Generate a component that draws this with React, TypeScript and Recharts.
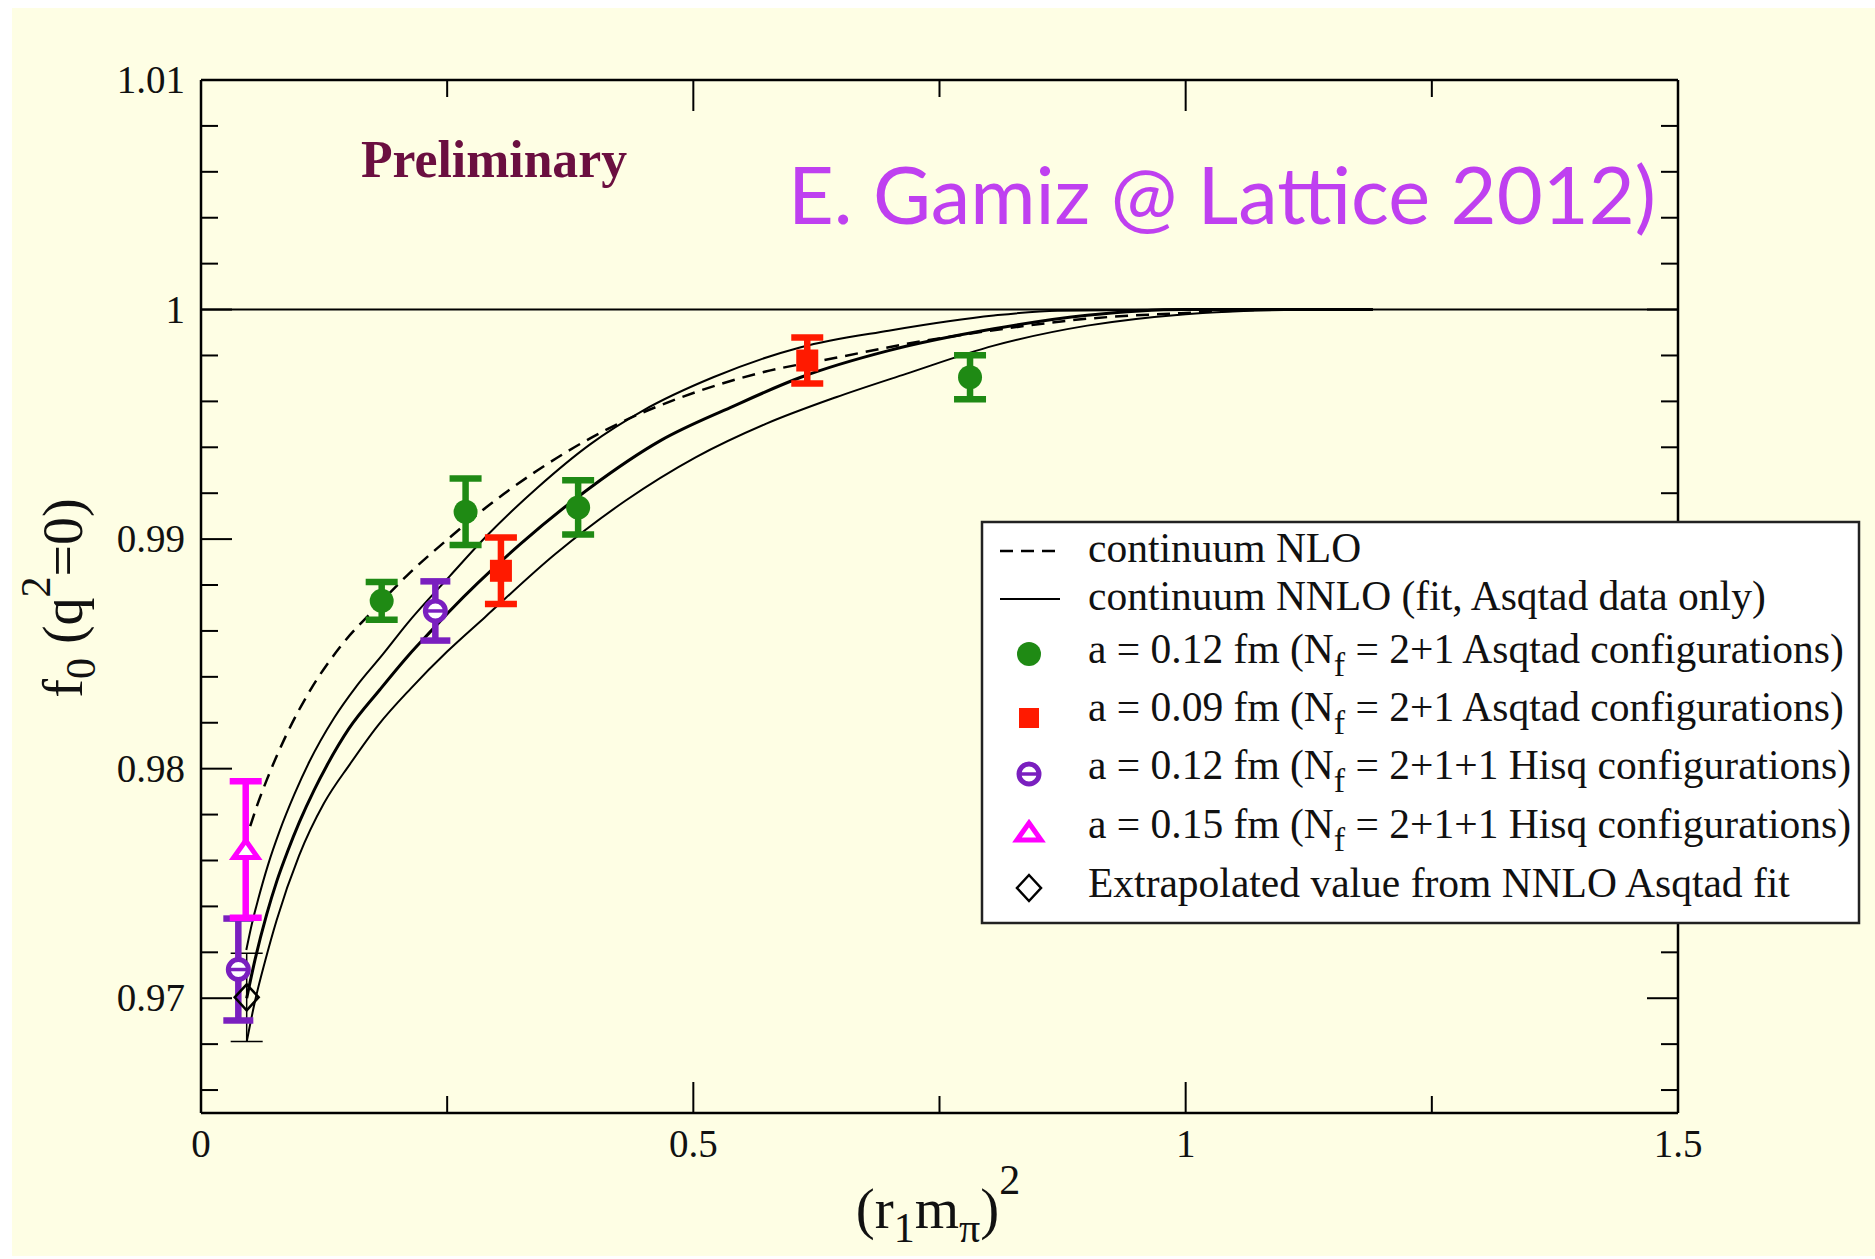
import React from 'react';
import { ComposedChart, Line, Scatter, XAxis, YAxis, ErrorBar, ReferenceLine } from 'recharts';

// axis ticks
const X_TICKS = [0, 0.25, 0.5, 0.75, 1, 1.25, 1.5];
const X_LABELS = ['0', '', '0.5', '', '1', '', '1.5'];
const Y_TICKS = [0.966, 0.968, 0.97, 0.972, 0.974, 0.976, 0.978, 0.98, 0.982, 0.984, 0.986, 0.988, 0.99,
  0.992, 0.994, 0.996, 0.998, 1, 1.002, 1.004, 1.006, 1.008, 1.01];
const Y_MAJOR = [0.97, 0.98, 0.99, 1, 1.01];
const Y_MAJOR_LABELS = ['0.97', '0.98', '0.99', '1', '1.01'];

// continuum NLO (dashed)
const nloX = [0.05, 0.057, 0.0667, 0.087, 0.1107, 0.1412, 0.175, 0.2089, 0.2562, 0.2813, 0.3419, 0.4132, 0.5023, 0.5735, 0.6447, 0.716, 0.805, 0.9, 1.0, 1.1, 1.19];
const nloY = [0.9775, 0.9784, 0.9795, 0.9815, 0.9834, 0.9853, 0.9869, 0.9884, 0.9902, 0.9911, 0.993, 0.9948, 0.9964, 0.9973, 0.9979, 0.9985, 0.9991, 0.9996, 0.99985, 1.0, 1.0];

// continuum NNLO fit: upper edge, central, lower edge
const upX = [0.046, 0.052, 0.058, 0.068, 0.08, 0.095, 0.11, 0.135, 0.158, 0.185, 0.209, 0.2529, 0.292, 0.3419, 0.3955, 0.4489, 0.5202, 0.6092, 0.6983, 0.8052, 0.87, 1.0, 1.19];
const upY = [0.9721, 0.9733, 0.9743, 0.9758, 0.9773, 0.9789, 0.9803, 0.9822, 0.9836, 0.985, 0.9863, 0.9884, 0.99022, 0.99225, 0.99414, 0.9956, 0.99705, 0.99836, 0.99908, 0.99974, 0.99995, 1.0, 1.0];
const midX = [0.0464, 0.055, 0.0667, 0.077, 0.088, 0.1, 0.115, 0.1276, 0.15, 0.1818, 0.21, 0.2359, 0.2529, 0.3242, 0.3955, 0.4666, 0.538, 0.6092, 0.6983, 0.8052, 0.9, 1.0, 1.19];
const midY = [0.97, 0.9717, 0.97365, 0.9751, 0.9764, 0.97768, 0.97908, 0.98012, 0.98173, 0.98345, 0.9849, 0.9861, 0.98688, 0.98978, 0.99225, 0.99429, 0.99574, 0.99705, 0.99821, 0.99916, 0.99975, 1.0, 1.0];
const lowX = [0.0464, 0.055, 0.065, 0.0768, 0.0995, 0.125, 0.1513, 0.18, 0.2132, 0.25, 0.2884, 0.3598, 0.431, 0.5023, 0.5736, 0.6449, 0.716, 0.8052, 0.9, 1.0, 1.1, 1.19];
const lowY = [0.9681, 0.9699, 0.9716, 0.9734, 0.9762, 0.9785, 0.9802, 0.9819, 0.9835, 0.9851, 0.9866, 0.98935, 0.99167, 0.99356, 0.99502, 0.99618, 0.9972, 0.99843, 0.9993, 0.9998, 0.99998, 1.0];

// lattice data
const asq12X = [0.1835, 0.2687, 0.383, 0.781];
const asq12Y = [0.98731, 0.99119, 0.99138, 0.99705];
const asq12E = [0.00082, 0.00145, 0.00118, 0.00096];
const asq09X = [0.3046, 0.6157];
const asq09Y = [0.98862, 0.99778];
const asq09E = [0.00145, 0.001];
const hisq12X = [0.0379, 0.238];
const hisq12Y = [0.97125, 0.98687];
const hisq12E = [0.00222, 0.00129];
const hisq15X = [0.0454];
const hisq15Y = [0.97648];
const hisq15E = [0.00297];
const extrapX = [0.0464];
const extrapY = [0.97004];
const extrapE = [0.00192];

const LEGEND_TEXT: [string, string, string][] = [
  ['continuum NLO', '', ''],
  ['continuum NNLO (fit, Asqtad data only)', '', ''],
  ['a = 0.12 fm (N', 'f', ' = 2+1 Asqtad configurations)'],
  ['a = 0.09 fm (N', 'f', ' = 2+1 Asqtad configurations)'],
  ['a = 0.12 fm (N', 'f', ' = 2+1+1 Hisq configurations)'],
  ['a = 0.15 fm (N', 'f', ' = 2+1+1 Hisq configurations)'],
  ['Extrapolated value from NNLO Asqtad fit', '', ''],
];

const BG = '#fefee4';
const GREEN = '#1f8a14';
const RED = '#ff1a00';
const PURPLE = '#7a1fbf';
const MAGENTA = '#ff00ff';
const SERIF = '"Liberation Serif", "Times New Roman", serif';

const zip = (xs: number[], ys: number[], es?: number[]) =>
  xs.map((x, i) => ({ x, y: ys[i], err: es ? es[i] : 0 }));

const isMajorY = (v: number) => Y_MAJOR.findIndex((m) => Math.abs(m - v) < 1e-9);

function BottomTick({ x, y, payload }: any) {
  const i = X_TICKS.findIndex((t) => Math.abs(t - payload.value) < 1e-9);
  const major = X_LABELS[i] !== '';
  return (
    <g>
      <line x1={x} y1={y} x2={x} y2={y - (major ? 31 : 17)} stroke="#000" strokeWidth={2} />
      {major && (
        <text x={x} y={y + 44} textAnchor="middle" fontFamily={SERIF} fontSize={39} fill="#111">
          {X_LABELS[i]}
        </text>
      )}
    </g>
  );
}

function TopTick({ x, y, payload }: any) {
  const i = X_TICKS.findIndex((t) => Math.abs(t - payload.value) < 1e-9);
  const major = X_LABELS[i] !== '';
  return <line x1={x} y1={y} x2={x} y2={y + (major ? 31 : 17)} stroke="#000" strokeWidth={2} />;
}

function LeftTick({ x, y, payload }: any) {
  const m = isMajorY(payload.value);
  return (
    <g>
      <line x1={x} y1={y} x2={x + (m >= 0 ? 31 : 17)} y2={y} stroke="#000" strokeWidth={2} />
      {m >= 0 && (
        <text x={x - 16} y={y + 13} textAnchor="end" fontFamily={SERIF} fontSize={39} fill="#111">
          {Y_MAJOR_LABELS[m]}
        </text>
      )}
    </g>
  );
}

function RightTick({ x, y, payload }: any) {
  const m = isMajorY(payload.value);
  return <line x1={x} y1={y} x2={x - (m >= 0 ? 31 : 17)} y2={y} stroke="#000" strokeWidth={2} />;
}

const GreenDot = ({ cx, cy }: any) => <circle cx={cx} cy={cy} r={12} fill={GREEN} />;
const RedSquare = ({ cx, cy }: any) => <rect x={cx - 11} y={cy - 11} width={22} height={22} fill={RED} />;
const PurpleMark = ({ cx, cy }: any) => (
  <g>
    <circle cx={cx} cy={cy} r={10} fill="#fff" stroke={PURPLE} strokeWidth={5} />
    <line x1={cx - 10} x2={cx + 10} y1={cy} y2={cy} stroke={PURPLE} strokeWidth={3.5} />
  </g>
);
const Triangle = ({ cx, cy }: any) => (
  <path d={`M${cx} ${cy - 9} L${cx + 12} ${cy + 8} L${cx - 12} ${cy + 8} Z`} fill="#fff" stroke={MAGENTA} strokeWidth={5} />
);
const Diamond = ({ cx, cy }: any) => (
  <path d={`M${cx} ${cy - 13} L${cx + 12} ${cy} L${cx} ${cy + 13} L${cx - 12} ${cy} Z`} fill="none" stroke="#000" strokeWidth={2.5} />
);

const LEGEND_BASE = [562, 610, 663, 721, 779, 838, 897];
const LEGEND_SYM_Y = [551, 599, 654, 718, 774, 832, 888];

function LegendSymbol({ row, cy }: { row: number; cy: number }) {
  const cx = 1029;
  switch (row) {
    case 0:
      return <line x1={1000} x2={1060} y1={cy} y2={cy} stroke="#000" strokeWidth={2.5} strokeDasharray="13 8" />;
    case 1:
      return <line x1={1000} x2={1060} y1={cy} y2={cy} stroke="#000" strokeWidth={2} />;
    case 2:
      return <ellipse cx={cx} cy={cy} rx={12} ry={12} fill={GREEN} />;
    case 3:
      return <rect x={cx - 10} y={cy - 10} width={20} height={20} fill={RED} />;
    case 4:
      return <PurpleMark cx={cx} cy={cy} />;
    case 5:
      return <Triangle cx={cx} cy={cy} />;
    default:
      return <Diamond cx={cx} cy={cy} />;
  }
}

export default function App() {
  const axisLine = { stroke: '#000', strokeWidth: 2.5 };
  return (
    <div style={{ position: 'fixed', left: 0, top: 0, width: 1875, height: 1259, background: '#fff', overflow: 'hidden' }}>
      <div style={{ position: 'absolute', left: 12, top: 8, right: 0, bottom: 3, background: BG }} />
      <div style={{ position: 'absolute', left: 0, top: 0 }}>
        <ComposedChart width={1875} height={1259} margin={{ top: 70, right: 187, bottom: 6, left: 11 }}>
          <XAxis xAxisId="b" type="number" dataKey="x" domain={[0, 1.5]} ticks={X_TICKS} interval={0}
            allowDataOverflow height={140} tickSize={0} tickMargin={0} tickLine={false} axisLine={axisLine} tick={<BottomTick />} />
          <XAxis xAxisId="t" orientation="top" type="number" dataKey="x" domain={[0, 1.5]} ticks={X_TICKS} interval={0}
            allowDataOverflow height={10} tickSize={0} tickMargin={0} tickLine={false} axisLine={axisLine} tick={<TopTick />} />
          <YAxis yAxisId="l" type="number" dataKey="y" domain={[0.965, 1.01]} ticks={Y_TICKS} interval={0}
            allowDataOverflow width={190} tickSize={0} tickMargin={0} tickLine={false} axisLine={axisLine} tick={<LeftTick />} />
          <YAxis yAxisId="r" orientation="right" type="number" dataKey="y" domain={[0.965, 1.01]} ticks={Y_TICKS} interval={0}
            allowDataOverflow width={10} tickSize={0} tickMargin={0} tickLine={false} axisLine={axisLine} tick={<RightTick />} />

          <ReferenceLine xAxisId="b" yAxisId="l" y={1} stroke="#000" strokeWidth={2} />

          <Line xAxisId="b" yAxisId="l" data={zip(nloX, nloY)} dataKey="y" type="monotone" dot={false}
            stroke="#000" strokeWidth={2.5} strokeDasharray="13 8" isAnimationActive={false} />
          <Line xAxisId="b" yAxisId="l" data={zip(upX, upY)} dataKey="y" type="monotone" dot={false}
            stroke="#000" strokeWidth={2} isAnimationActive={false} />
          <Line xAxisId="b" yAxisId="l" data={zip(midX, midY)} dataKey="y" type="monotone" dot={false}
            stroke="#000" strokeWidth={3} isAnimationActive={false} />
          <Line xAxisId="b" yAxisId="l" data={zip(lowX, lowY)} dataKey="y" type="monotone" dot={false}
            stroke="#000" strokeWidth={2} isAnimationActive={false} />

          <Scatter xAxisId="b" yAxisId="l" data={zip(extrapX, extrapY, extrapE)} shape={Diamond} isAnimationActive={false}>
            <ErrorBar dataKey="err" direction="y" width={16} strokeWidth={1.5} stroke="#000" />
          </Scatter>
          <Scatter xAxisId="b" yAxisId="l" data={zip(asq12X, asq12Y, asq12E)} shape={GreenDot} isAnimationActive={false}>
            <ErrorBar dataKey="err" direction="y" width={16} strokeWidth={6.5} stroke={GREEN} />
          </Scatter>
          <Scatter xAxisId="b" yAxisId="l" data={zip(asq09X, asq09Y, asq09E)} shape={RedSquare} isAnimationActive={false}>
            <ErrorBar dataKey="err" direction="y" width={16} strokeWidth={6.5} stroke={RED} />
          </Scatter>
          <Scatter xAxisId="b" yAxisId="l" data={zip(hisq12X, hisq12Y, hisq12E)} shape={PurpleMark} isAnimationActive={false}>
            <ErrorBar dataKey="err" direction="y" width={15} strokeWidth={6.5} stroke={PURPLE} />
          </Scatter>
          <Scatter xAxisId="b" yAxisId="l" data={zip(hisq15X, hisq15Y, hisq15E)} shape={Triangle} isAnimationActive={false}>
            <ErrorBar dataKey="err" direction="y" width={16} strokeWidth={6.5} stroke={MAGENTA} />
          </Scatter>
        </ComposedChart>
      </div>

      <svg width={1875} height={1259} style={{ position: 'absolute', left: 0, top: 0, pointerEvents: 'none' }}>
        <text x={361} y={177} fontFamily={SERIF} fontWeight="bold" fontSize={52} fill="#6b0f40"
          textLength={266} lengthAdjust="spacingAndGlyphs">Preliminary</text>
        <text x={788} y={224} fontFamily="Lato, 'Open Sans', sans-serif" fontSize={80} fill="#bf40f0"
          textLength={868} lengthAdjust="spacingAndGlyphs">E. Gamiz @ Lattice 2012)</text>

        {/* x axis title */}
        <text x={938} y={1228} textAnchor="middle" fontFamily={SERIF} fontSize={57} fill="#111" style={{ whiteSpace: 'pre' }}>
          (r<tspan dy={14} fontSize={42}>1</tspan><tspan dy={-14}>m</tspan><tspan dy={14} fontSize={42}>π</tspan><tspan dy={-14}>)</tspan><tspan dy={-34} fontSize={42}>2</tspan>
        </text>

        {/* y axis title */}
        <text transform="translate(82,598) rotate(-90)" textAnchor="middle" fontFamily={SERIF} fontSize={56} fill="#111" style={{ whiteSpace: 'pre' }}>
          f<tspan dy={13} fontSize={42}>0</tspan><tspan dy={-13}> (q</tspan><tspan dy={-32} fontSize={42}>2</tspan><tspan dy={32}>=0)</tspan>
        </text>

        {/* legend */}
        <rect x={982} y={522} width={877} height={401} fill="#fff" stroke="#222" strokeWidth={2.5} />
        {LEGEND_TEXT.map(([pre, sub, post], i) => (
          <g key={i}>
            <LegendSymbol row={i} cy={LEGEND_SYM_Y[i]} />
            <text x={1088} y={LEGEND_BASE[i]} fontFamily={SERIF} fontSize={41.5} fill="#111" style={{ whiteSpace: 'pre' }}>
              {pre}
              {sub && <tspan dy={13} fontSize={34}>{sub}</tspan>}
              {sub && <tspan dy={-13}>{post}</tspan>}
            </text>
          </g>
        ))}
      </svg>
    </div>
  );
}
